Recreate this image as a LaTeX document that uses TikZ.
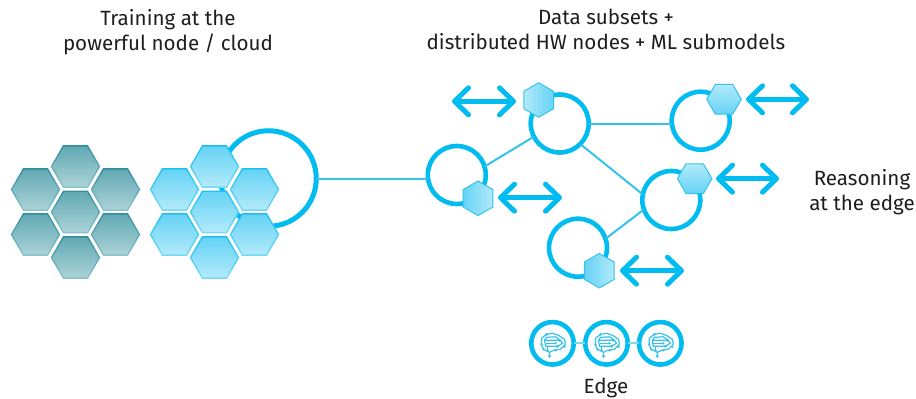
\documentclass[tikz,border=0pt]{standalone}
\usepackage{fontspec}
\setmainfont{Fira Sans}
\usetikzlibrary{shapes.geometric,arrows.meta}
\definecolor{cy}{HTML}{00BCF0}
\definecolor{cyl}{HTML}{35C3EC}
\definecolor{tealt}{HTML}{62A9B4}
\definecolor{tealb}{HTML}{ABD3D7}
\definecolor{tealet}{HTML}{2F8D9D}
\definecolor{tealeb}{HTML}{8CC4CB}
\definecolor{blut}{HTML}{66D3F5}
\definecolor{blub}{HTML}{B2EAFB}
\definecolor{bluet}{HTML}{1CC0F0}
\definecolor{blueb}{HTML}{78DBF6}
\definecolor{ink}{HTML}{1E1E1E}
\tikzset{
  x=1pt,y=-1pt,
  every node/.style={inner sep=0pt,outer sep=0pt},
  txt/.style={text=ink,align=center,font=\fontsize{20.6}{25}\selectfont},
  ring/.style={circle,draw=cy,line width=4.6pt,minimum size=58pt},
  bigring/.style={circle,draw=cy,line width=5pt,minimum size=95.5pt},
  edgering/.style={circle,draw=cy,line width=4.6pt,fill=white,minimum size=42.5pt},
  wire/.style={draw=cyl,line width=2pt},
  thin wire/.style={draw=blueb,line width=2pt},
  biarrow/.style={draw=cy,line width=5pt,line cap=round,
    {Straight Barb[round,length=14pt,width=27pt]}-{Straight Barb[round,length=14pt,width=27pt]}},
  hexo/.style={regular polygon,regular polygon sides=6,minimum size=49.5pt},
  hexi/.style={regular polygon,regular polygon sides=6,minimum size=46pt},
  teale/.style={hexo,top color=tealet,bottom color=tealeb},
  tealf/.style={hexi,top color=tealt,bottom color=tealb},
  blue e/.style={hexo,top color=bluet,bottom color=blueb},
  blue f/.style={hexi,top color=blut,bottom color=blub},
  minihexflat/.style={regular polygon,regular polygon sides=6,minimum size=34.5pt,draw=cyl,line width=1pt},
  minihex/.style={minihexflat,shape border rotate=30},
  brainline/.style={draw=cyl,line width=1.2pt,line join=round},
}
\newcommand{\hexcell}[4]{%
  \node[#3] (#1) at (#2) {};
  \node[#4] (#1f) at (#1.center) {};
}
\newcommand{\brainicon}[1]{%
  \begin{scope}[shift={(#1.center)}]
    \draw[brainline] (-3,13) -- (-3,9) -- (1,7) -- (8,6) -- (13,1) -- (12,-4) -- (6,-8) -- (0,-10) -- (-6,-9) -- (-11,-5) -- (-11,2) -- (-9,6) -- (-3,9);
    \draw[brainline] (-8,-3) -- (-6,-6) -- (3,-6.5) -- (8,-3) -- (10,0) -- (5,3) -- (-7,3) -- (-8,-3) -- (7,-3);
    \draw[brainline] (-5,7) -- (-5,3);
    \draw[brainline] (-7,0) -- (3,0);
    \fill[cyl] (-3,13) circle (1.6) (-9,6) circle (1.3) (12,3.5) circle (1.3) (-6,-9) circle (1.5) (7,-3) circle (1.5) (5,3) circle (1.5) (-5,7) circle (1.5) (3,7) circle (1.3) (-11,1) circle (1.3) (3,0) circle (1.3);
  \end{scope}
}
\begin{document}
\begin{tikzpicture}
\useasboundingbox[fill=white] (0,0) rectangle (916,399);
% rings
\node[bigring] (big) at (268.5,178.5) {};
\node[ring] (c1) at (559.7,123.5) {};
\node[ring] (c2) at (700.7,120.7) {};
\node[ring] (c3) at (456.8,175) {};
\node[ring] (c4) at (671.3,200) {};
\node[ring] (c5) at (578,247.7) {};
% connectors
\draw[wire] (big.east) -- (big.east -| c3.west);
\draw[wire] (c3.17) -- (c1.207);
\draw[wire] (c1.east) -- (c1.east -| c2.west);
\draw[wire] (c1.315) -- (c4.169);
\draw[wire] (c4.199) -- (c5.18);
% teal hexagons
\hexcell{t1}{75.5,166.5}{teale}{tealf}
\hexcell{t2}{35.5,189.5}{teale}{tealf}
\hexcell{t3}{115.5,189.5}{teale}{tealf}
\hexcell{t4}{75.5,212}{teale}{tealf}
\hexcell{t5}{35.5,234.5}{teale}{tealf}
\hexcell{t6}{115.5,234.5}{teale}{tealf}
\hexcell{t7}{75.5,257.5}{teale}{tealf}
% blue hexagons
\hexcell{b1}{214.5,166.5}{blue e}{blue f}
\hexcell{b2}{174.5,189.5}{blue e}{blue f}
\hexcell{b3}{254.5,189.5}{blue e}{blue f}
\hexcell{b4}{214.5,212}{blue e}{blue f}
\hexcell{b5}{174.5,234.5}{blue e}{blue f}
\hexcell{b6}{254.5,234.5}{blue e}{blue f}
\hexcell{b7}{214.5,257.5}{blue e}{blue f}
% small hexagons
\node[minihex,left color=blub,right color=blut] (h1) at (538.7,100) {};
\node[minihexflat,top color=blub,bottom color=blut] (h2) at (724,99.3) {};
\node[minihex,left color=blut,right color=blub] (h3) at (478,198.3) {};
\node[minihexflat,top color=blub,bottom color=blut] (h4) at (694.7,178.7) {};
\node[minihex,left color=blut,right color=blub] (h5) at (599.3,270.7) {};
% double arrows
\coordinate (a1l) at (452,101.3); \coordinate (a1r) at (516,101.3);
\coordinate (a2l) at (746,99.3);  \coordinate (a2r) at (809,99.3);
\coordinate (a3l) at (716,178.7); \coordinate (a3r) at (779,178.7);
\coordinate (a4l) at (498,197.7); \coordinate (a4r) at (562,197.7);
\coordinate (a5l) at (620,270.7); \coordinate (a5r) at (684,270.7);
\draw[biarrow] (a1l) -- (a1r);
\draw[biarrow] (a2l) -- (a2r);
\draw[biarrow] (a3l) -- (a3r);
\draw[biarrow] (a4l) -- (a4r);
\draw[biarrow] (a5l) -- (a5r);
% edge row
\node[edgering] (e1) at (552.5,343.3) {};
\node[edgering] (e2) at (606.5,343.3) {};
\node[edgering] (e3) at (660.3,343.3) {};
\draw[thin wire] (e1) -- (e2);
\draw[thin wire] (e2) -- (e3);
\brainicon{e1}
\brainicon{e2}
\brainicon{e3}
% labels
\node[txt] (l1) at (168,32.5) {Training at the\\powerful node / cloud};
\node[txt] (l2) at (606,29.5) {Data subsets +\\distributed HW nodes + ML submodels};
\node[txt] (l3) at (862,192) {Reasoning\\at the edge};
\node[txt] (l4) at (606,388) {Edge};
\end{tikzpicture}
\end{document}
